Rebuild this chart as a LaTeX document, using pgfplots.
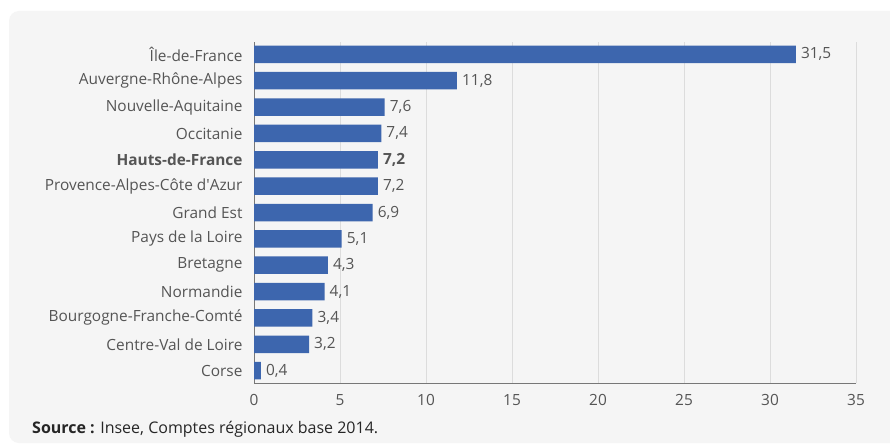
\documentclass[border=0pt]{standalone}
\usepackage{pgfplots}
\pgfplotsset{compat=1.18}
\usepackage{fontspec}
\setmainfont{Open Sans}
\definecolor{panel}{HTML}{F5F5F5}
\definecolor{barblue}{HTML}{3D66AE}
\definecolor{txt}{HTML}{555555}
\definecolor{gridc}{HTML}{DCDCDC}
\definecolor{axc}{HTML}{777777}
\begin{document}
\begin{tikzpicture}
\fill[white] (0pt,0pt) rectangle (890pt,445pt);
\begin{scope}
\clip (0pt,0pt) rectangle (890pt,445pt);
\fill[panel, rounded corners=10pt] (9pt,2pt) rectangle (900pt,434pt);
\end{scope}
\begin{axis}[
  at={(254pt,62pt)}, anchor=south west,
  scale only axis, width=602pt, height=341pt,
  xbar, bar width=17.5pt,
  xmin=0, xmax=35,
  ymin=-0.47, ymax=12.47,
  xtick={0,5,...,35},
  ytick={0,...,12},
  yticklabels={Corse,Centre-Val de Loire,Bourgogne-Franche-Comté,Normandie,Bretagne,Pays de la Loire,Grand Est,Provence-Alpes-Côte d\textquotesingle Azur,\textbf{Hauts-de-France},Occitanie,Nouvelle-Aquitaine,Auvergne-Rhône-Alpes,Île-de-France},
  axis x line*=bottom, axis y line*=left,
  axis line style={axc, line width=1pt},
  x axis line style={-}, y axis line style={-},
  xmajorgrids, grid style={gridc, line width=0.9pt},
  major tick length=0pt,
  tick style={draw=none},
  ticklabel style={font=\fontsize{15.4}{17}\selectfont, text=txt},
  xticklabel style={yshift=-8pt},
  yticklabel style={xshift=-8pt},
  /pgf/number format/assume math mode=true,
  point meta=explicit symbolic,
  nodes near coords,
  nodes near coords style={font=\fontsize{15.4}{17}\selectfont, text=txt, anchor=west, xshift=5pt, inner xsep=0pt},
  clip=false,
]
\addplot[fill=barblue, draw=none] coordinates {
(0.4,0) [0,4]
(3.2,1) [3,2]
(3.4,2) [3,4]
(4.1,3) [4,1]
(4.3,4) [4,3]
(5.1,5) [5,1]
(6.9,6) [6,9]
(7.2,7) [7,2]
(7.2,8) [\textbf{7,2}]
(7.4,9) [7,4]
(7.6,10) [7,6]
(11.8,11) [11,8]
(31.5,12) [31,5]
};
\end{axis}
\node[anchor=base west, font=\fontsize{16}{18}\selectfont, inner sep=0pt, text=black!85] at (32pt,12pt) {\textbf{Source :} Insee, Comptes régionaux base 2014.};
\end{tikzpicture}
\end{document}
